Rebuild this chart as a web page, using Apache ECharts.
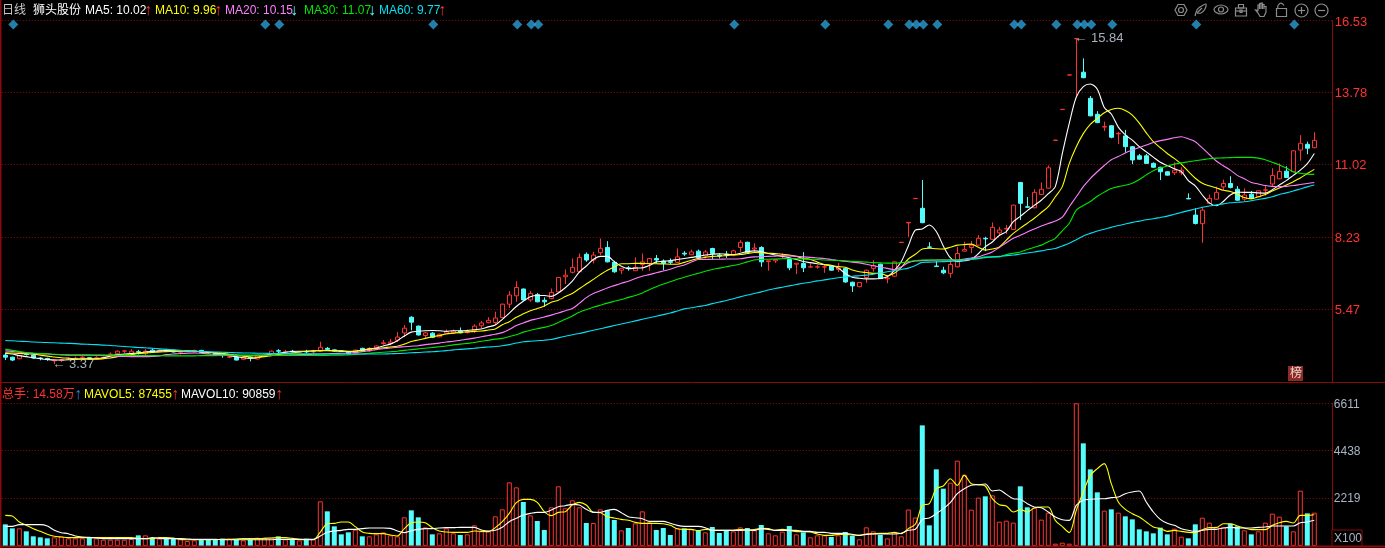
<!DOCTYPE html>
<html><head><meta charset="utf-8">
<style>html,body{margin:0;padding:0;background:#000}#c{width:1385px;height:548px}</style>
<script src="https://cdn.jsdelivr.net/npm/echarts@6/dist/echarts.min.js"></script>
</head><body><div id="c"></div>
<script>
const opens=[3.72,3.64,3.58,3.76,3.72,3.61,3.59,3.50,3.52,3.58,
3.58,3.62,3.62,3.60,3.62,3.74,3.77,3.87,3.79,3.85,
3.77,3.91,3.85,3.91,3.91,3.83,3.85,3.84,3.90,3.82,
3.80,3.76,3.64,3.64,3.56,3.64,3.57,3.70,3.77,3.89,
3.83,3.87,3.83,3.86,3.84,3.87,3.98,3.92,3.88,3.84,
3.79,3.98,3.88,3.99,4.16,4.17,4.29,4.57,5.17,4.83,
4.47,4.56,4.42,4.55,4.57,4.64,4.58,4.65,4.84,4.96,
4.97,5.16,5.67,5.99,6.25,5.83,6.04,5.82,5.89,6.14,
6.72,6.89,6.91,7.58,7.36,7.64,7.84,7.27,6.97,7.06,
6.95,7.19,7.23,7.42,7.32,7.30,7.27,7.62,7.56,7.70,
7.51,7.80,7.55,7.59,7.55,7.84,8.04,7.78,7.84,7.30,
7.33,7.50,7.38,7.20,7.23,7.09,7.09,7.09,7.13,7.00,
7.04,6.51,6.34,6.69,7.04,7.20,6.64,6.74,8.03,8.78,
9.71,9.34,7.86,7.13,6.97,6.85,7.10,7.70,7.84,7.93,
8.19,8.15,8.40,8.55,8.53,10.33,9.40,9.36,9.87,10.11,
11.94,13.12,14.44,15.83,14.55,13.55,12.94,12.45,12.50,12.19,
12.11,11.70,11.35,11.35,11.06,10.91,10.74,10.70,10.70,9.72,
9.08,8.75,9.53,9.69,10.16,10.29,10.07,9.69,9.88,9.78,
10.03,10.27,10.47,10.76,10.74,11.57,11.79,11.66];
const closes=[3.64,3.53,3.70,3.74,3.61,3.59,3.57,3.53,3.54,3.60,
3.60,3.64,3.60,3.62,3.64,3.76,3.87,3.88,3.87,3.83,
3.87,3.83,3.91,3.87,3.84,3.85,3.87,3.90,3.82,3.80,
3.74,3.70,3.66,3.53,3.64,3.60,3.68,3.72,3.87,3.87,
3.85,3.85,3.85,3.84,3.86,4.02,3.94,3.88,3.86,3.78,
3.91,3.87,3.98,4.07,4.19,4.22,4.41,4.75,4.98,4.49,
4.57,4.40,4.52,4.61,4.64,4.57,4.62,4.83,4.95,5.05,
5.14,5.67,6.02,6.31,5.83,6.08,5.76,5.76,6.12,6.69,
6.78,7.08,7.46,7.36,7.55,7.81,7.29,6.91,7.04,7.03,
7.08,7.29,7.42,7.36,7.23,7.27,7.48,7.59,7.67,7.44,
7.67,7.61,7.51,7.57,7.71,8.04,7.65,7.82,7.29,7.33,
7.38,7.52,7.06,7.24,7.06,7.10,7.10,7.10,6.97,7.06,
6.52,6.37,6.50,6.97,7.14,6.65,6.67,7.29,8.04,8.80,
9.72,8.79,7.85,7.11,6.87,7.19,7.61,7.76,7.93,8.19,
8.17,8.61,8.51,8.57,9.46,9.53,9.38,9.95,10.07,10.89,
11.95,13.13,14.45,15.84,14.34,12.88,12.62,12.47,12.06,12.21,
11.70,11.19,11.22,11.06,10.91,10.74,10.61,10.80,10.80,9.70,
8.76,9.27,9.72,9.95,10.29,10.14,9.65,9.85,9.72,10.01,
10.05,10.60,10.75,10.52,11.54,11.83,11.64,11.94];
const lows=[3.53,3.49,3.56,3.70,3.58,3.52,3.50,3.37,3.46,3.54,
3.54,3.58,3.56,3.56,3.56,3.68,3.75,3.80,3.75,3.74,
3.72,3.80,3.83,3.85,3.82,3.74,3.83,3.82,3.80,3.77,
3.72,3.62,3.60,3.52,3.52,3.48,3.55,3.66,3.75,3.80,
3.78,3.82,3.81,3.80,3.78,3.85,3.92,3.86,3.84,3.76,
3.77,3.85,3.85,3.97,4.12,4.10,4.22,4.40,4.67,4.47,
4.36,4.37,4.40,4.53,4.55,4.55,4.55,4.57,4.75,4.94,
4.87,5.14,5.52,5.76,5.80,5.76,5.74,5.57,5.86,6.12,
6.44,6.85,6.89,7.29,7.23,7.55,7.27,6.87,6.82,6.95,
6.95,6.95,6.95,7.23,6.97,7.19,7.27,7.52,7.55,7.38,
7.42,7.38,7.42,7.44,7.50,7.67,7.63,7.67,7.10,6.95,
7.25,7.40,6.97,6.82,6.90,7.06,7.03,6.87,6.95,6.90,
6.49,6.14,6.32,6.49,6.91,6.63,6.47,6.72,8.03,8.25,
9.71,8.77,7.84,7.10,6.82,6.68,7.08,7.68,7.62,7.91,
7.70,8.13,8.30,8.36,8.51,8.89,9.36,9.34,9.85,10.09,
11.94,13.12,14.44,13.65,14.32,12.86,12.60,12.30,12.02,11.80,
11.47,11.03,11.20,11.04,10.89,10.42,10.59,10.61,10.61,9.69,
8.72,8.02,9.50,9.67,10.04,10.10,9.63,9.61,9.70,9.76,
9.82,10.20,10.45,10.50,10.72,11.16,11.41,11.64];
const highs=[3.80,3.66,3.72,3.82,3.74,3.64,3.62,3.55,3.58,3.64,
3.66,3.68,3.64,3.68,3.66,3.82,3.90,3.90,3.95,3.92,
3.95,3.98,3.93,3.96,3.93,3.90,3.89,3.93,3.92,3.84,
3.82,3.78,3.68,3.66,3.66,3.66,3.70,3.74,3.90,3.95,
3.92,3.92,3.87,3.92,3.92,4.23,4.03,3.94,3.90,3.86,
3.93,4.00,4.02,4.09,4.30,4.34,4.60,4.87,5.21,4.85,
4.61,4.60,4.54,4.70,4.70,4.78,4.70,4.90,5.03,5.17,
5.38,5.69,6.17,6.55,6.27,6.17,6.10,5.93,6.27,6.71,
7.00,7.42,7.61,7.65,7.67,8.19,8.08,7.33,7.04,7.13,
7.46,7.61,7.44,7.55,7.38,7.42,7.80,7.70,7.76,7.76,
7.74,7.83,7.61,7.71,7.75,8.12,8.06,8.00,7.89,7.33,
7.38,7.62,7.40,7.24,7.66,7.23,7.16,7.19,7.15,7.25,
7.06,6.53,6.52,6.99,7.35,7.22,6.78,7.31,8.05,8.82,
9.73,10.42,8.04,7.32,7.10,7.38,7.87,8.06,8.09,8.32,
8.25,8.80,8.63,8.70,9.48,10.35,9.77,10.07,10.33,10.98,
11.96,13.14,14.46,15.84,15.08,13.64,13.06,12.66,12.52,12.27,
12.34,11.72,11.42,11.42,11.10,10.93,10.76,11.10,10.91,9.91,
9.34,9.38,9.87,10.17,10.44,10.57,10.19,10.10,10.00,10.03,
10.23,10.87,11.06,10.95,11.56,12.14,11.89,12.25];
const ma5=[3.79,3.76,3.70,3.66,3.62,3.58,3.55,3.53,3.53,3.54,
3.56,3.58,3.58,3.58,3.62,3.68,3.74,3.76,3.78,3.80,
3.84,3.86,3.88,3.89,3.89,3.89,3.89,3.87,3.85,3.83,
3.80,3.76,3.70,3.66,3.62,3.60,3.62,3.70,3.76,3.79,
3.83,3.86,3.87,3.87,3.88,3.89,3.90,3.88,3.87,3.86,
3.87,3.91,3.96,3.99,4.07,4.14,4.27,4.45,4.60,4.63,
4.65,4.66,4.65,4.63,4.65,4.65,4.66,4.69,4.72,4.80,
4.87,5.09,5.33,5.58,5.78,5.95,6.00,6.00,5.97,6.10,
6.30,6.55,6.90,7.13,7.38,7.50,7.50,7.30,7.12,7.03,
7.05,7.06,7.15,7.29,7.31,7.34,7.38,7.42,7.46,7.50,
7.55,7.58,7.60,7.58,7.57,7.62,7.68,7.71,7.68,7.61,
7.55,7.50,7.45,7.38,7.30,7.26,7.22,7.18,7.16,7.05,
6.85,6.70,6.66,6.64,6.64,6.65,6.72,6.95,7.30,7.90,
8.50,8.55,8.70,8.45,7.90,7.45,7.30,7.33,7.39,7.60,
7.87,8.05,8.30,8.45,8.83,9.03,9.25,9.45,9.65,9.90,
10.17,11.43,12.60,13.60,14.00,14.10,13.90,13.20,12.95,12.45,
12.15,11.95,11.70,11.50,11.30,11.10,10.98,10.85,10.75,10.40,
10.20,9.85,9.55,9.44,9.60,9.85,9.96,9.95,9.95,9.93,
9.92,10.05,10.23,10.40,10.60,10.80,11.05,11.44];
const ma10=[3.81,3.80,3.78,3.77,3.75,3.72,3.68,3.65,3.62,3.60,
3.58,3.56,3.57,3.56,3.58,3.61,3.66,3.71,3.74,3.78,
3.80,3.82,3.84,3.85,3.86,3.87,3.87,3.87,3.86,3.83,
3.81,3.79,3.75,3.72,3.68,3.65,3.64,3.66,3.70,3.74,
3.77,3.80,3.84,3.87,3.88,3.89,3.89,3.89,3.88,3.87,
3.87,3.90,3.94,3.97,4.00,4.03,4.06,4.14,4.24,4.30,
4.36,4.42,4.47,4.53,4.56,4.59,4.61,4.63,4.64,4.68,
4.72,4.88,5.00,5.17,5.30,5.42,5.50,5.60,5.74,5.82,
5.96,6.08,6.26,6.44,6.62,6.80,6.97,7.10,7.22,7.22,
7.23,7.23,7.22,7.22,7.21,7.20,7.20,7.27,7.35,7.42,
7.46,7.50,7.51,7.53,7.55,7.57,7.61,7.65,7.64,7.62,
7.61,7.58,7.55,7.50,7.42,7.38,7.28,7.19,7.14,7.11,
7.08,6.98,6.91,6.88,6.85,6.85,6.76,6.85,7.08,7.40,
7.58,7.78,7.81,7.79,7.78,7.85,7.93,7.95,7.97,7.85,
7.74,7.78,7.86,8.12,8.38,8.58,8.77,8.96,9.18,9.40,
9.78,10.17,11.06,11.70,12.20,12.55,12.78,13.00,13.12,13.17,
13.08,12.91,12.60,12.23,11.89,11.66,11.44,11.25,11.03,10.75,
10.49,10.30,10.20,10.12,10.03,9.98,9.88,9.75,9.70,9.78,
9.87,10.00,10.12,10.23,10.36,10.50,10.67,10.83];
const ma20=[3.88,3.86,3.83,3.80,3.78,3.77,3.76,3.74,3.73,3.72,
3.72,3.72,3.72,3.71,3.71,3.70,3.68,3.67,3.66,3.66,
3.66,3.67,3.69,3.74,3.76,3.78,3.79,3.80,3.79,3.76,
3.75,3.74,3.73,3.72,3.71,3.71,3.72,3.72,3.72,3.71,
3.72,3.73,3.74,3.74,3.75,3.76,3.77,3.78,3.79,3.80,
3.82,3.85,3.89,3.93,3.96,3.99,4.02,4.04,4.06,4.08,
4.12,4.15,4.18,4.22,4.25,4.29,4.33,4.37,4.42,4.47,
4.52,4.58,4.70,4.85,4.95,5.05,5.11,5.18,5.25,5.33,
5.42,5.50,5.70,5.92,6.08,6.18,6.29,6.38,6.47,6.55,
6.65,6.74,6.80,6.87,6.94,7.01,7.10,7.17,7.28,7.38,
7.38,7.39,7.39,7.40,7.40,7.41,7.45,7.48,7.49,7.50,
7.51,7.52,7.52,7.50,7.48,7.46,7.44,7.42,7.38,7.34,
7.31,7.28,7.25,7.20,7.14,7.09,7.04,6.99,7.10,7.26,
7.32,7.34,7.35,7.36,7.36,7.36,7.36,7.40,7.44,7.48,
7.57,7.67,7.84,8.02,8.19,8.31,8.43,8.55,8.66,8.76,
8.85,9.00,9.40,9.78,10.17,10.48,10.74,10.98,11.20,11.32,
11.46,11.57,11.67,11.76,11.86,11.93,11.98,12.04,12.08,12.00,
11.89,11.65,11.40,11.15,10.97,10.80,10.60,10.47,10.33,10.27,
10.21,10.18,10.17,10.18,10.21,10.25,10.29,10.33];
const ma30=[3.95,3.90,3.86,3.82,3.80,3.78,3.77,3.75,3.74,3.73,
3.72,3.72,3.72,3.72,3.72,3.72,3.72,3.71,3.71,3.70,
3.70,3.70,3.70,3.69,3.69,3.69,3.69,3.69,3.70,3.70,
3.70,3.71,3.71,3.71,3.71,3.71,3.71,3.71,3.71,3.71,
3.71,3.71,3.71,3.71,3.71,3.71,3.71,3.72,3.72,3.73,
3.74,3.76,3.79,3.81,3.83,3.85,3.87,3.90,3.93,3.96,
3.98,4.01,4.04,4.07,4.11,4.14,4.17,4.20,4.25,4.29,
4.33,4.36,4.43,4.50,4.60,4.67,4.73,4.78,4.85,4.97,
5.09,5.22,5.36,5.46,5.55,5.63,5.71,5.78,5.85,5.93,
6.00,6.10,6.22,6.34,6.44,6.53,6.62,6.70,6.78,6.85,
6.93,7.00,7.05,7.10,7.15,7.21,7.29,7.36,7.38,7.39,
7.40,7.41,7.42,7.41,7.40,7.39,7.38,7.36,7.35,7.34,
7.33,7.31,7.30,7.28,7.26,7.25,7.24,7.24,7.26,7.30,
7.34,7.36,7.36,7.36,7.36,7.36,7.36,7.37,7.38,7.41,
7.48,7.48,7.48,7.57,7.62,7.67,7.76,7.85,7.93,8.06,
8.19,8.48,8.77,9.27,9.45,9.60,9.80,9.96,10.10,10.17,
10.22,10.30,10.44,10.62,10.78,10.88,10.96,11.03,11.08,11.12,
11.16,11.20,11.24,11.26,11.27,11.28,11.29,11.29,11.29,11.26,
11.20,11.10,11.00,10.88,10.74,10.68,10.65,10.64];
const ma60=[4.28,4.27,4.25,4.24,4.22,4.21,4.20,4.19,4.18,4.17,
4.16,4.14,4.13,4.12,4.10,4.09,4.07,4.05,4.03,4.01,
4.00,3.98,3.96,3.94,3.92,3.90,3.88,3.87,3.86,3.85,
3.84,3.83,3.82,3.81,3.80,3.80,3.79,3.79,3.78,3.78,
3.78,3.77,3.77,3.77,3.77,3.76,3.76,3.76,3.76,3.76,
3.76,3.76,3.76,3.76,3.76,3.77,3.78,3.79,3.81,3.82,
3.84,3.85,3.87,3.89,3.92,3.94,3.96,3.98,4.01,4.03,
4.05,4.08,4.12,4.18,4.23,4.25,4.27,4.29,4.32,4.38,
4.44,4.50,4.55,4.61,4.67,4.73,4.79,4.85,4.91,4.97,
5.03,5.09,5.15,5.21,5.27,5.33,5.41,5.49,5.53,5.58,
5.62,5.69,5.75,5.81,5.88,5.95,6.02,6.08,6.14,6.21,
6.27,6.32,6.37,6.42,6.47,6.51,6.56,6.60,6.64,6.68,
6.71,6.74,6.76,6.78,6.82,6.86,6.91,6.95,7.00,7.05,
7.15,7.27,7.28,7.29,7.30,7.31,7.32,7.36,7.40,7.43,
7.45,7.48,7.50,7.53,7.55,7.59,7.63,7.67,7.71,7.76,
7.80,7.90,8.00,8.14,8.28,8.38,8.47,8.54,8.61,8.68,
8.74,8.80,8.85,8.90,8.94,8.99,9.04,9.11,9.18,9.25,
9.31,9.38,9.43,9.47,9.51,9.55,9.57,9.59,9.63,9.68,
9.72,9.78,9.87,9.93,10.00,10.08,10.16,10.23];
const volumes=[1004,818,818,679,448,401,355,401,448,355,
355,355,401,355,293,293,293,293,324,494,
494,371,340,371,340,309,232,262,293,293,
293,340,340,293,262,293,386,386,386,448,
309,309,262,340,309,2069,1606,911,540,633,
757,448,448,540,633,494,448,1328,1652,1328,
865,540,587,818,587,510,540,957,679,679,
1374,1698,2949,2717,2038,1420,1158,741,1791,2764,
1745,2115,1791,1065,1065,1698,1652,1204,726,834,
1050,1606,1096,741,834,510,818,818,772,710,
633,880,602,710,679,865,834,726,973,587,
494,664,926,540,633,401,494,494,417,494,
648,463,309,865,679,510,355,633,448,1690,
1320,5589,957,3551,2656,2934,3953,3304,1683,2239,
2301,2347,1127,1173,1081,2764,1791,1776,1220,1544,
108,154,108,6611,4756,3551,2486,1637,1698,1544,
1374,1235,772,679,587,849,540,803,432,355,
1004,1312,1081,896,865,1034,911,726,540,679,
1081,1498,1359,911,679,2563,1513,1544];
const mavol5=[1420,1390,1112,957,803,679,540,448,417,386,
386,386,386,386,386,386,386,386,386,355,
340,340,386,386,371,309,293,293,293,293,
293,309,309,324,340,340,340,355,371,386,
386,355,309,293,293,648,1034,1050,1112,1112,
896,648,587,571,571,510,463,803,1081,1112,
1081,849,695,648,633,633,633,695,679,664,
849,1127,1513,2007,2162,2162,2023,1590,1405,1559,
1590,1899,2023,1899,1559,1544,1359,1297,1235,1189,
1096,1050,1050,1050,1034,957,803,772,772,710,
772,726,726,726,726,772,726,757,818,803,
726,772,726,664,664,648,556,494,494,540,
540,510,494,556,571,587,587,633,571,803,
1004,1884,1961,2656,2779,3119,2810,3273,2887,2841,
2779,2192,1915,1853,1575,1683,1575,1760,1806,1806,
1189,896,618,1652,2501,3273,3582,3814,2887,2038,
1698,1498,1343,1112,880,803,679,726,679,633,
618,757,849,849,1034,1034,926,834,757,757,
757,957,1081,1143,1065,1420,1420,1451];
const mavol10=[911,911,988,988,988,988,926,726,618,571,
463,417,401,371,340,340,340,340,340,340,
340,386,355,340,340,340,324,309,309,309,
309,293,293,293,293,293,293,293,293,309,
309,309,309,309,309,463,633,695,726,772,
772,803,834,834,834,818,695,618,710,772,
803,803,834,849,849,865,865,865,741,695,
726,865,1127,1282,1436,1513,1559,1559,1668,1822,
1868,1930,1899,1698,1559,1559,1652,1698,1544,1359,
1312,1266,1143,1143,1143,1050,957,911,911,911,
849,726,726,726,726,726,741,726,803,772,
726,726,726,726,679,679,633,633,587,587,
587,540,494,540,556,556,556,556,587,726,
772,1235,1297,1498,1729,2007,2424,2656,2810,2841,
2872,2548,2594,2393,2192,2162,1961,1806,1776,1575,
1343,1220,1189,1884,2115,2162,2192,2192,2239,2270,
2424,2501,2548,2038,1575,1235,1050,957,803,726,
679,726,772,772,834,865,834,834,834,865,
880,926,926,926,926,1081,1112,1189];
const signalDays=[1,37,39,61,73,75,76,104,117,126,129,130,131,133,144,145,150,153,154,155,158,170,184];
const priceTicks=[5.47,8.23,11.02,13.78,16.53];
const volumeTicks=[2219,4438,6611];
const days=Array.from({length:190},(_,i)=>i+1);

const RED='#ff3232',CYAN='#54fcfc',FRAME='#8b0a0a',GRID='#8a0f0f',ICON='#8c8c8c';
const FONT='"Liberation Sans","Noto Sans CJK SC",sans-serif';
const headerTexts=[
 ['日线',2,'#c8c8c8'],['狮头股份',33,'#ffffff'],
 ['MA5: 10.02',85,'#ffffff'],['MA10: 9.96',155,'#ffff00'],
 ['MA20: 10.15',225,'#ff80ff'],['MA30: 11.07',304,'#00e600'],['MA60: 9.77',379,'#02e2f4']];
const headerArrows=[['↑',144,RED],['↑',214,RED],['↓',290,CYAN],['↓',368,CYAN],['↑',438,RED]];
const volumeHeader=[['总手: 14.58万',2,RED],['MAVOL5: 87455',84,'#ffff00'],['MAVOL10: 90859',181,'#ffffff']];
const volumeArrows=[['↑',74,'#2a7fd0'],['↑',171,RED],['↑',275,RED]];

const txt=(t,x,y,c,size)=>({type:'text',x,y,silent:true,z:50,style:{text:t,fill:c,font:(size||12)+'px '+FONT,textVerticalAlign:'middle'}});
const st={fill:'none',stroke:ICON,lineWidth:1.2};
const el=(type,shape)=>({type,shape,style:st,silent:true,z:50});
const icons=[
 el('polygon',{points:[[1178,4.5],[1184,4.5],[1187,10],[1184,15.5],[1178,15.5],[1175,10]]}),el('circle',{cx:1181,cy:10,r:2.5}),
 el('polyline',{points:[[1195,16],[1197,10],[1200,7],[1206,4],[1205,9],[1201,13],[1197,13]],smooth:0.3}),el('line',{x1:1197,y1:13,x2:1202,y2:8}),
 el('polygon',{points:[[1214,9.5],[1221,5],[1228,9.5],[1221,14]],smooth:0.5}),el('circle',{cx:1221,cy:9.5,r:2.5}),
 el('rect',{x:1235.5,y:8,width:11,height:8}),el('line',{x1:1235.5,y1:11,x2:1246.5,y2:11}),el('rect',{x:1238.5,y:4.5,width:5,height:3.5}),el('rect',{x:1240,y:10,width:2,height:2.5}),
 el('polyline',{points:[[1258,13],[1255.5,10],[1258,10.5],[1258,5],[1259.5,5],[1259.5,9],[1259.5,3.5],[1261,3.5],[1261,9],[1261,3],[1262.5,3],[1262.5,9],[1262.5,4.5],[1264,4.5],[1264,9],[1264,6.5],[1266,6.5],[1266,12],[1264,16.5],[1260,16.5],[1258,13]]}),
 el('rect',{x:1276.5,y:8.5,width:10,height:8}),el('polyline',{points:[[1278,8.5],[1278,5.5],[1281,3.2],[1284,5.5]],smooth:0.5}),
 el('circle',{cx:1301.5,cy:10.5,r:6.5}),el('line',{x1:1298,y1:10.5,x2:1305,y2:10.5}),el('line',{x1:1301.5,y1:7,x2:1301.5,y2:14}),
 el('circle',{cx:1321.5,cy:10.5,r:6.5}),el('line',{x1:1318,y1:10.5,x2:1325,y2:10.5})];
const graphic=[
 {type:'line',silent:true,z:40,shape:{x1:0.5,y1:0,x2:0.5,y2:548},style:{stroke:FRAME,lineWidth:2}},
 {type:'line',silent:true,z:40,shape:{x1:0,y1:382.5,x2:1385,y2:382.5},style:{stroke:FRAME,lineWidth:1}},
 {type:'line',silent:true,z:40,shape:{x1:0,y1:546.5,x2:1385,y2:546.5},style:{stroke:FRAME,lineWidth:2}},
 {type:'rect',silent:true,z:45,shape:{x:1332,y:530,width:30,height:16},style:{fill:'#000',stroke:FRAME,lineWidth:1}},
 txt('X100',1334,538.5,'#a8b4c4'),
 {type:'rect',silent:true,z:45,shape:{x:1288,y:366,width:15,height:15},style:{fill:'#8e2b26'}},
 txt('榜',1290,374,'#e8d8d0'),
].concat(icons);
headerTexts.forEach(h=>graphic.push(txt(h[0],h[1],10.5,h[2])));
headerArrows.forEach(h=>graphic.push(txt(h[0],h[1],10.5,h[2],16)));
volumeHeader.forEach(h=>graphic.push(txt(h[0],h[1],394.5,h[2])));
volumeArrows.forEach(h=>graphic.push(txt(h[0],h[1],394.5,h[2],16)));

const line=(name,data,color,ax)=>({name,type:'line',data,xAxisIndex:ax,yAxisIndex:ax,showSymbol:false,smooth:0.3,lineStyle:{color,width:1.1},silent:true,animation:false,z:5});
const candleData=opens.map((o,i)=>[o,closes[i],lows[i],highs[i]]);
const volData=volumes.map((v,i)=>({value:v,itemStyle:closes[i]>=opens[i]?{color:'#000',borderColor:RED,borderWidth:1}:{color:CYAN,borderColor:CYAN,borderWidth:0}}));
const peak=(coord,text)=>({coord,symbol:'circle',symbolSize:0,label:{show:true,position:'right',distance:-2,formatter:text,color:'#a8b0bc',fontSize:13,fontFamily:FONT}});

const chart=echarts.init(document.getElementById('c'),null,{renderer:'canvas'});
const axisCommon={type:'category',data:days,boundaryGap:true,axisTick:{show:false},axisLabel:{show:false},axisLine:{show:false},splitLine:{show:false}};
chart.setOption({
 animation:false,backgroundColor:'#000',tooltip:{show:false},
 grid:[{left:1.8,width:1330,top:20.5,height:361.5},{left:1.8,width:1330,top:403.3,height:142.7}],
 xAxis:[Object.assign({gridIndex:0},axisCommon),Object.assign({gridIndex:1},axisCommon)],
 yAxis:[
  {gridIndex:0,type:'value',position:'right',min:2.69,max:16.53,
   axisLine:{show:true,lineStyle:{color:FRAME}},axisTick:{show:false,customValues:priceTicks},
   axisLabel:{customValues:priceTicks,color:RED,fontSize:13,fontFamily:FONT,margin:3,verticalAlign:'top',lineHeight:3,formatter:v=>v.toFixed(2)},
   splitLine:{show:true,lineStyle:{color:GRID,type:[1,2],width:1}}},
  {gridIndex:1,type:'value',position:'right',min:0,max:6611,
   axisLine:{show:true,lineStyle:{color:FRAME}},axisTick:{show:false,customValues:volumeTicks},
   axisLabel:{customValues:volumeTicks,color:'#a8b4c4',fontSize:12,fontFamily:FONT,margin:2,verticalAlign:'top',lineHeight:2,formatter:v=>String(v)},
   splitLine:{show:true,lineStyle:{color:GRID,type:[1,2],width:1}}}],
 graphic:{elements:graphic},
 series:[
  {name:'K',type:'candlestick',data:candleData,xAxisIndex:0,yAxisIndex:0,barWidth:5,silent:true,z:3,
   itemStyle:{color:'#000',color0:CYAN,borderColor:RED,borderColor0:CYAN,borderWidth:1},
   markPoint:{silent:true,animation:false,data:[peak([153,15.84],'← 15.84'),peak([7,3.37],'← 3.37')]}},
  line('MA5',ma5,'#ffffff',0),line('MA10',ma10,'#ffff00',0),line('MA20',ma20,'#ff80ff',0),line('MA30',ma30,'#00e600',0),line('MA60',ma60,'#02e2f4',0),
  {name:'信号',type:'scatter',data:signalDays.map(d=>[d,16.38]),xAxisIndex:0,yAxisIndex:0,symbol:'diamond',symbolSize:10,symbolOffset:[1,0],itemStyle:{color:'#2a9fd6'},silent:true,z:6},
  {name:'总手',type:'bar',data:volData,xAxisIndex:1,yAxisIndex:1,barWidth:5,silent:true,z:3},
  line('MAVOL5',mavol5,'#ffff00',1),line('MAVOL10',mavol10,'#ffffff',1)
 ]
});
</script></body></html>
